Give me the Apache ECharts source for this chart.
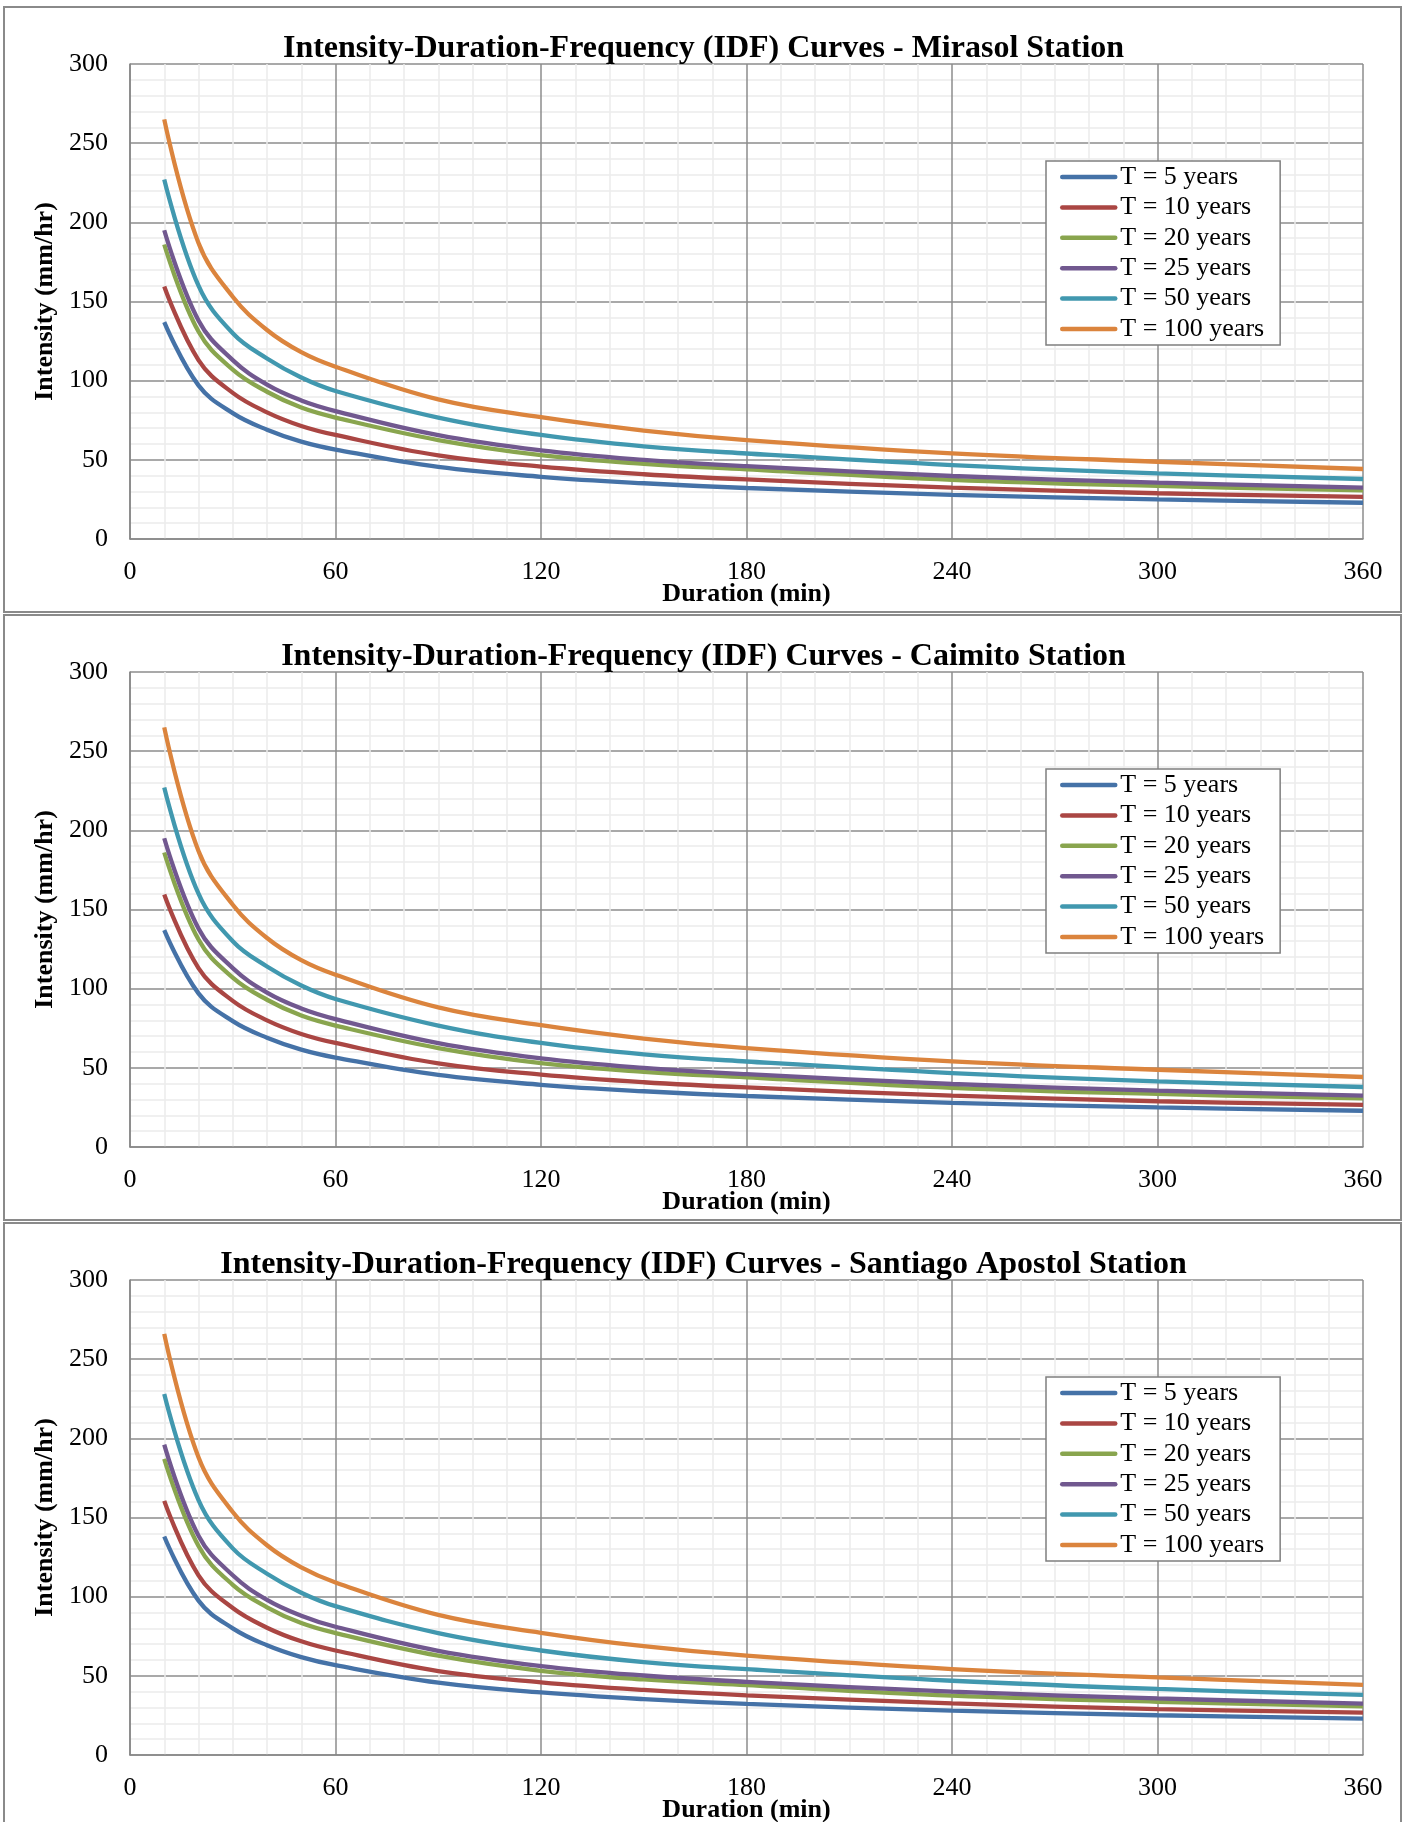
<!DOCTYPE html>
<html>
<head>
    <meta charset="utf-8" />
    <script src="https://cdn.jsdelivr.net/npm/echarts/dist/echarts.min.js"></script>
    <style>
        body { margin: 0; background: #fff; }
    </style>
</head>
<body>
    <div id="main" style="width: 1407px;height: 1822px;"></div>

    <script type="text/javascript">
        // durations (min) and return periods
        var durations = [10, 20, 30, 40, 50, 60, 90, 120, 150, 180, 240, 300, 360];
        var periods = ['T = 5 years', 'T = 10 years', 'T = 20 years', 'T = 25 years', 'T = 50 years', 'T = 100 years'];
        var colors = ['#4572A7', '#AA4643', '#89A54E', '#71588F', '#4198AF', '#DB843D'];
        var stations = ['Mirasol', 'Caimito', 'Santiago Apostol'];

        // intensities (mm/hr)
        var mirasolT5   = [137, 97, 79.5, 69, 61.5, 56.5, 45.5, 39.3, 35.2, 32.2, 27.9, 25.0, 22.9];
        var mirasolT10  = [159.5, 113, 92.3, 80, 71.4, 65.7, 52.8, 45.7, 40.9, 37.6, 32.5, 28.9, 26.6];
        var mirasolT20  = [186, 131, 107, 93, 83, 76.7, 62.5, 53, 47.5, 44, 37.4, 33.5, 30.7];
        var mirasolT25  = [195, 138, 113, 97.5, 87.5, 80.8, 65.6, 56, 50, 46, 39.8, 35.6, 32.4];
        var mirasolT50  = [227, 160, 130, 114, 102, 93.5, 76.7, 65.7, 58.5, 54, 46.7, 41.5, 37.9];
        var mirasolT100 = [265, 187, 153, 132, 118, 108.8, 88.2, 76.9, 68.5, 62.5, 54.1, 48.8, 44.2];

        var caimitoT5   = [137, 97, 79.5, 69, 61.5, 56.5, 45.5, 39.3, 35.2, 32.2, 27.9, 25.0, 22.9];
        var caimitoT10  = [159.5, 113, 92.3, 80, 71.4, 65.7, 52.8, 45.7, 40.9, 37.6, 32.5, 28.9, 26.6];
        var caimitoT20  = [186, 131, 107, 93, 83, 76.7, 62.5, 53, 47.5, 44, 37.4, 33.5, 30.7];
        var caimitoT25  = [195, 138, 113, 97.5, 87.5, 80.8, 65.6, 56, 50, 46, 39.8, 35.6, 32.4];
        var caimitoT50  = [227, 160, 130, 114, 102, 93.5, 76.7, 65.7, 58.5, 54, 46.7, 41.5, 37.9];
        var caimitoT100 = [265, 187, 153, 132, 118, 108.8, 88.2, 76.9, 68.5, 62.5, 54.1, 48.8, 44.2];

        var santiagoT5   = [138, 97.5, 80, 69.3, 61.8, 56.7, 45.7, 39.5, 35.3, 32.3, 28, 25.1, 23];
        var santiagoT10  = [160.5, 113.5, 92.8, 80.4, 71.8, 66, 53, 45.9, 41.1, 37.7, 32.6, 29, 26.7];
        var santiagoT20  = [187, 132, 107.5, 93.3, 83.3, 77, 62.7, 53.2, 47.7, 44.1, 37.5, 33.6, 30.8];
        var santiagoT25  = [196, 138.5, 113.5, 98, 88, 81, 65.8, 56.2, 50.2, 46.2, 40, 35.7, 32.5];
        var santiagoT50  = [228, 161, 130.5, 114.5, 102.5, 94, 77, 66, 58.7, 54.2, 46.9, 41.7, 38];
        var santiagoT100 = [266, 188, 153.5, 132.5, 118.5, 109, 88.5, 77.2, 68.7, 62.7, 54.3, 49, 44.3];

        var stationData = [
            [mirasolT5, mirasolT10, mirasolT20, mirasolT25, mirasolT50, mirasolT100],
            [caimitoT5, caimitoT10, caimitoT20, caimitoT25, caimitoT50, caimitoT100],
            [santiagoT5, santiagoT10, santiagoT20, santiagoT25, santiagoT50, santiagoT100]
        ];

        var chart = echarts.init(document.getElementById('main'));
        var font = 'Liberation Serif, Times New Roman, serif';
        var titles = [], grids = [], xAxes = [], yAxes = [], legends = [], series = [], graphics = [];

        stations.forEach(function (name, i) {
            var dy = 608 * i;
            graphics.push({
                type: 'rect', z: -10,
                shape: { x: 4, y: 7 + dy, width: 1397, height: 605 },
                style: { fill: '#fff', stroke: '#8a8a8a', lineWidth: 2 }
            });
            titles.push({
                text: 'Intensity-Duration-Frequency (IDF) Curves - ' + name + ' Station',
                left: 'center', top: 33 + dy, padding: 0,
                textStyle: { fontFamily: font, fontSize: 32, fontWeight: 'bold', color: '#000', lineHeight: 32 }
            });
            grids.push({ left: 130, top: 64 + dy, width: 1233, height: 475, outerBoundsMode: 'none', containLabel: false });
            xAxes.push({
                gridIndex: i, type: 'value', min: 0, max: 360, interval: 60,
                name: 'Duration (min)', nameLocation: 'middle', nameGap: 42, nameMoveOverlap: false,
                nameTextStyle: { fontFamily: font, fontSize: 26, fontWeight: 'bold', color: '#000' },
                axisLine: { show: true, lineStyle: { color: '#868686', width: 1.5 } },
                axisTick: { show: false },
                axisLabel: { margin: 20, fontFamily: font, fontSize: 26, color: '#000' },
                splitLine: { show: true, lineStyle: { color: '#8c8c8c', width: 1.5 } },
                minorTick: { show: false, splitNumber: 6 },
                minorSplitLine: { show: true, lineStyle: { color: '#ebebeb', width: 1.5 } }
            });
            yAxes.push({
                gridIndex: i, type: 'value', min: 0, max: 300, interval: 50,
                name: 'Intensity (mm/hr)', nameLocation: 'middle', nameGap: 72, nameMoveOverlap: false,
                nameTextStyle: { fontFamily: font, fontSize: 26, fontWeight: 'bold', color: '#000' },
                axisLine: { show: true, lineStyle: { color: '#868686', width: 1.5 } },
                axisTick: { show: false },
                axisLabel: { margin: 22, fontFamily: font, fontSize: 26, color: '#000', padding: [10, 0, 0, 0] },
                splitLine: { show: true, lineStyle: { color: '#8c8c8c', width: 1.5 } },
                minorTick: { show: false, splitNumber: 5 },
                minorSplitLine: { show: true, lineStyle: { color: '#ebebeb', width: 1.5 } }
            });
            legends.push({
                left: 1046, top: 161 + dy, orient: 'vertical', data: periods,
                itemWidth: 53, itemHeight: 26, itemGap: 4.4,
                padding: [3, 16, 3, 14],
                borderColor: '#7f7f7f', borderWidth: 1.5, backgroundColor: '#fff',
                itemStyle: { opacity: 0 },
                lineStyle: { width: 4.5, cap: 'round' },
                textStyle: { fontFamily: font, fontSize: 26, color: '#000', lineHeight: 26 }
            });
            stationData[i].forEach(function (vals, k) {
                series.push({
                    type: 'line', name: periods[k], xAxisIndex: i, yAxisIndex: i,
                    data: durations.map(function (d, j) { return [d, vals[j]]; }),
                    smooth: 0.4, symbol: 'none', animation: false,
                    lineStyle: { width: 4.3, color: colors[k] },
                    itemStyle: { color: colors[k] }
                });
            });
        });

        var option = {
            backgroundColor: '#fff',
            color: colors,
            graphic: graphics,
            title: titles,
            grid: grids,
            xAxis: xAxes,
            yAxis: yAxes,
            legend: legends,
            series: series
        };
        chart.setOption(option);
    </script>
</body>
</html>
